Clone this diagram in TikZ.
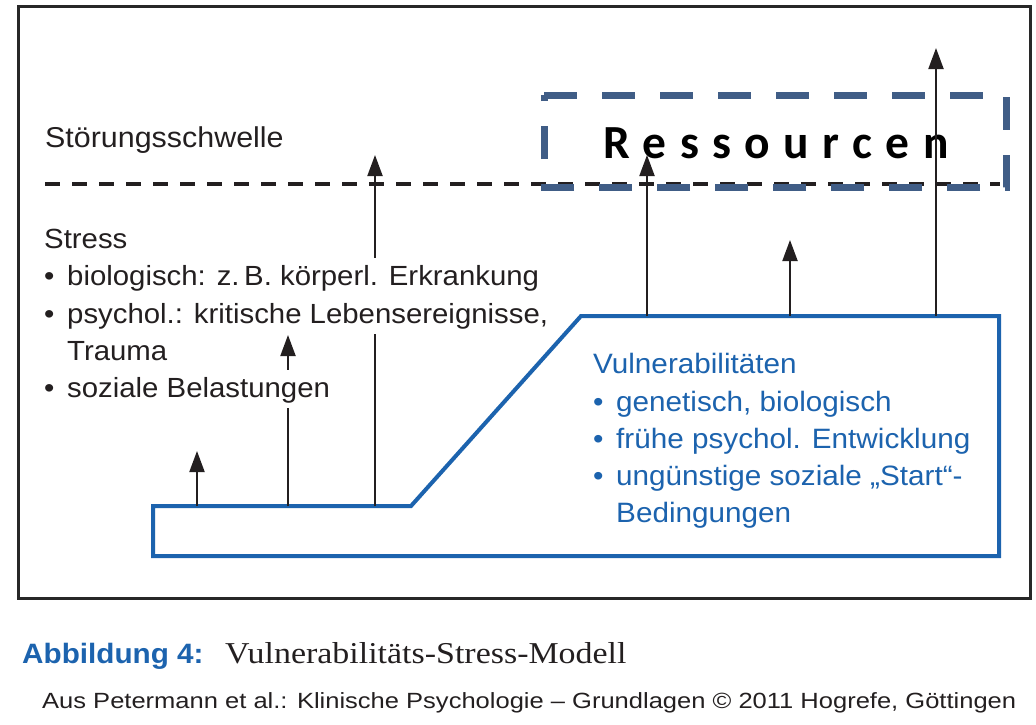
\documentclass[tikz,border=0pt]{standalone}
\usepackage{fontspec}
\setmainfont{Liberation Sans}
\newfontfamily\lsans[FakeStretch=1.06]{Liberation Sans}
\newfontfamily\lsanssrc[FakeStretch=1.16]{Liberation Sans}
\newfontfamily\lserif[FakeStretch=1.12]{Liberation Serif}
\newfontfamily\carlito[LetterSpace=28.3]{Carlito}
\usetikzlibrary{arrows.meta}
\definecolor{vulblue}{RGB}{28,99,174}
\definecolor{resblue}{RGB}{64,93,134}
\definecolor{framegray}{RGB}{40,40,40}
\definecolor{inkblack}{RGB}{35,31,32}
\tikzset{
  frameline/.style={draw=framegray, line width=3pt},
  threshold/.style={draw=inkblack, line width=4pt, dash pattern=on 15pt off 12pt},
  resbox/.style={draw=resblue, line width=7pt, dash pattern=on 33pt off 25pt},
  vulshape/.style={draw=vulblue, line width=4pt, fill=white, line join=miter},
  uparrow/.style={draw=inkblack, line width=2pt, -{Triangle[length=21pt,width=15pt]}},
  maintxt/.style={anchor=base west, inner sep=0pt, text=inkblack, font=\lsans\fontsize{27.7}{34}\selectfont},
  stressline/.style={maintxt, fill=white, inner xsep=3pt, text height=27pt, text depth=11pt},
  bluetxt/.style={anchor=base west, inner sep=0pt, text=vulblue, font=\lsans\fontsize{28}{34}\selectfont},
}
\newcommand{\bul}{\makebox[23pt][l]{•}}
\begin{document}
\begin{tikzpicture}[x=1pt,y=-1pt]
\useasboundingbox (0,0) rectangle (1036,724);
% outer frame
\draw[frameline] (18,6) rectangle (1030,598);
% threshold line
\coordinate (thL) at (45,184);
\coordinate (thR) at (1000,184);
\draw[threshold] (thL) -- (thR);
\node[maintxt, font=\lsans\fontsize{28.7}{34}\selectfont] (schwelle) at (45,147) {Störungsschwelle};
% Ressourcen box
\coordinate (r1) at (544,95);
\coordinate (r2) at (1006,95);
\coordinate (r3) at (1006,187);
\coordinate (r4) at (544,187);
\draw[resbox] (r1) -- (r2) -- (r3) -- (r4) -- cycle;
\node[anchor=base west, inner sep=0pt, text=black, font=\carlito\bfseries\fontsize{47.5}{50}\selectfont] (res) at (603,158) {Ressourcen};
% vulnerability shape
\draw[vulshape] (153,506) -- (411,506) -- (581,316) -- (999,316) -- (999,556) -- (153,556) -- cycle;
% arrow coordinates
\coordinate (a1s) at (197,506); \coordinate (a1e) at (197,451);
\coordinate (a2s) at (288,506); \coordinate (a2e) at (288,335);
\coordinate (a3s) at (375,506); \coordinate (a3e) at (375,155);
\coordinate (a4s) at (647,316); \coordinate (a4e) at (647,155);
\coordinate (a5s) at (790,316); \coordinate (a5e) at (790,240);
\coordinate (a6s) at (936,316); \coordinate (a6e) at (936,48);
\foreach \i in {1,...,6} { \draw[uparrow] (a\i s) -- (a\i e); }
% stress text
\node[stressline] (stress) at (41,248) {Stress};
\node[stressline] (bio) at (41,285) {\bul biologisch: z.\,B. körperl. Erkrankung};
\node[stressline] (psy) at (41,323) {\bul psychol.: kritische Lebensereignisse,};
\node[stressline] (trauma) at (41,360) {\hspace*{23pt}Trauma};
\node[stressline] (soz) at (41,397) {\bul soziale Belastungen};
% vulnerability text
\node[bluetxt] (vul) at (593,373) {Vulnerabilitäten};
\node[bluetxt] (gen) at (593,411) {\bul genetisch, biologisch};
\node[bluetxt] (fru) at (593,448) {\bul frühe psychol. Entwicklung};
\node[bluetxt] (ung) at (593,485) {\bul ungünstige soziale „Start“-};
\node[bluetxt] (bed) at (593,522) {\hspace*{23pt}Bedingungen};
% caption
\node[anchor=base west, inner sep=0pt, text=vulblue, font=\lsans\bfseries\fontsize{28}{34}\selectfont] (abb) at (22,663) {Abbildung 4:};
\node[anchor=base west, inner sep=0pt, text=inkblack, font=\lserif\fontsize{30.3}{34}\selectfont] (title) at (225,663) {Vulnerabilitäts-Stress-Modell};
\node[anchor=base west, inner sep=0pt, text=inkblack, font=\lsanssrc\fontsize{22}{26}\selectfont] (src) at (42,708) {Aus Petermann et al.: Klinische Psychologie – Grundlagen © 2011 Hogrefe, Göttingen};
\end{tikzpicture}
\end{document}
